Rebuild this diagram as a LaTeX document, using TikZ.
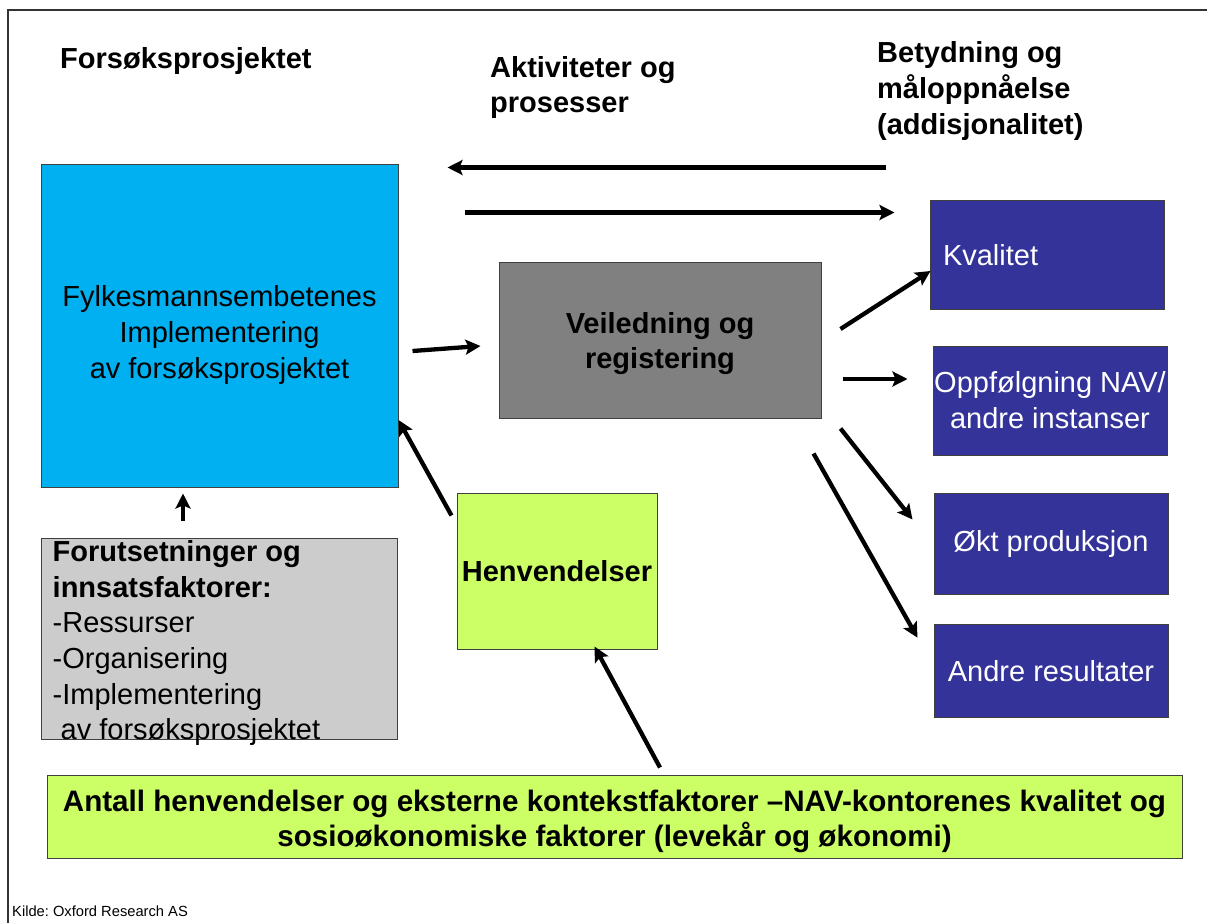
\documentclass[tikz,border=0pt]{standalone}
\usepackage{fontspec}
\setmainfont{Liberation Sans}
\usetikzlibrary{arrows.meta,calc}
\frenchspacing

\definecolor{cyanbox}{HTML}{00B0F0}
\definecolor{greybox}{HTML}{808080}
\definecolor{lightbox}{HTML}{CCCCCC}
\definecolor{limebox}{HTML}{CCFF66}
\definecolor{navybox}{HTML}{333399}

\tikzset{
  big/.style={font=\fontsize{29}{36}\selectfont},
  bigbold/.style={font=\bfseries\fontsize{29}{35}\selectfont},
  box/.style={draw=black!75, line width=1pt, inner sep=0pt, align=center},
  result/.style={box, big, fill=navybox, text=white, minimum width=234pt},
  head/.style={bigbold, inner sep=0pt, align=left, anchor=west},
  arr/.style={-{Stealth[length=15pt,width=15pt,inset=3pt]}, line width=4.3pt},
}

\begin{document}
\begin{tikzpicture}[x=1pt, y=-1pt]
    \useasboundingbox (0,0) rectangle (1207,923);

    % the frame round the slide
    \draw[line width=1.5pt, black!80] (8,923) -- (8,10) -- (1207,10);

    % The three column headings
    \node[head] (head1) at (60,61) {Forsøksprosjektet};
    \node[head] (head2) at (490,88) {Aktiviteter og\\prosesser};
    \node[head, font=\bfseries\fontsize{29}{36}\selectfont] (head3) at (877,91)
        {Betydning og\\måloppnåelse\\(addisjonalitet)};

    % the blue box -> the county offices
    \node[box, fill=cyanbox, minimum width=357pt, minimum height=323pt] (blue) at (219.5,325.5) {};
    \node[big, inner sep=0pt, align=center] (blue text) at ($(blue.center)+(0,9.5)$)
        {Fylkesmannsembetenes\\Implementering\\av forsøksprosjektet};

    % the grey box below -> the inputs
    \node[box, fill=lightbox, minimum width=356pt, minimum height=201pt] (forut) at (219,638.5) {};
    \node[inner sep=0pt, align=left, anchor=north west, font=\fontsize{29}{35.6}\selectfont]
        (forut text) at ($(forut.north west)+(12,3)$)
        {\textbf{Forutsetninger og}\\\textbf{innsatsfaktorer:}\\-Ressurser\\-Organisering\\-Implementering\\\hspace*{8pt}av forsøksprosjektet};

    % the dark grey box in the middle
    \node[box, bigbold, fill=greybox, minimum width=322pt, minimum height=156pt] (veil) at (660,340)
        {\rule{0pt}{28pt}Veiledning og\\registering};

    % the two green boxes
    \node[box, bigbold, fill=limebox, minimum width=200pt, minimum height=156pt] (henv) at (557,571)
        {Henvendelser};
    \node[box, font=\bfseries\fontsize{29.6}{35}\selectfont, fill=limebox, minimum width=1135pt, minimum height=83pt] (ant) at (614.5,816.5)
        {\rule{0pt}{31pt}Antall henvendelser og eksterne kontekstfaktorer –NAV-kontorenes kvalitet og\\sosioøkonomiske faktorer (levekår og økonomi)};

    % The four result boxes on the right
    \node[result, minimum height=109pt, text width=208pt, inner xsep=13pt, align=left] (kval) at (1047,255) {Kvalitet};
    \node[result, minimum height=109pt] (oppf) at (1050,400.5) {Oppfølgning NAV/\\andre instanser};
    \node[result, minimum height=101pt] (okt) at (1051,543.5) {Økt produksjon};
    \node[result, minimum height=93.5pt] (andre) at (1051,671) {Andre resultater};

    % the long arrows under the headings
    \draw[arr] ($(kval.north west)+(-44,-32.5)$) -- ($(blue.north east)+(49,4)$);
    \draw[arr] ($(blue.north east)+(66,49)$) -- ($(kval.north west)+(-35,12.5)$);

    % arrows on the left side
    \draw[arr] ($(blue.east)+(14,25.5)$) -- ($(veil.west)+(-18,6)$);
    \draw[arr] ($(forut.north)+(-36,-17)$) -- ($(blue.south)+(-36.5,6)$);
    \draw[arr] ($(henv.north west)+(-5,23)$) -- ($(blue.east)+(0,94.5)$);
    \draw[arr] ($(ant.north)+(45.5,-7)$) -- ($(henv.south)+(37.5,-3)$);

    % arrows from the middle box to the results
    \draw[arr] ($(veil.east)+(19,-11)$) -- ($(kval.west)+(1,16)$);
    \draw[arr] ($(veil.east)+(21,39)$) -- ($(oppf.west)+(-25,-21.5)$);
    \draw[arr] ($(veil.south east)+(19,10)$) -- ($(okt.north west)+(-21,27)$);
    \draw[arr] ($(veil.south east)+(-8,35)$) -- ($(andre.north west)+(-16,14)$);

    % the source line
    \node[anchor=west, inner sep=0pt, font=\fontsize{14.7}{17}\selectfont] (source) at (12,911)
        {Kilde: Oxford Research AS};
\end{tikzpicture}
\end{document}
